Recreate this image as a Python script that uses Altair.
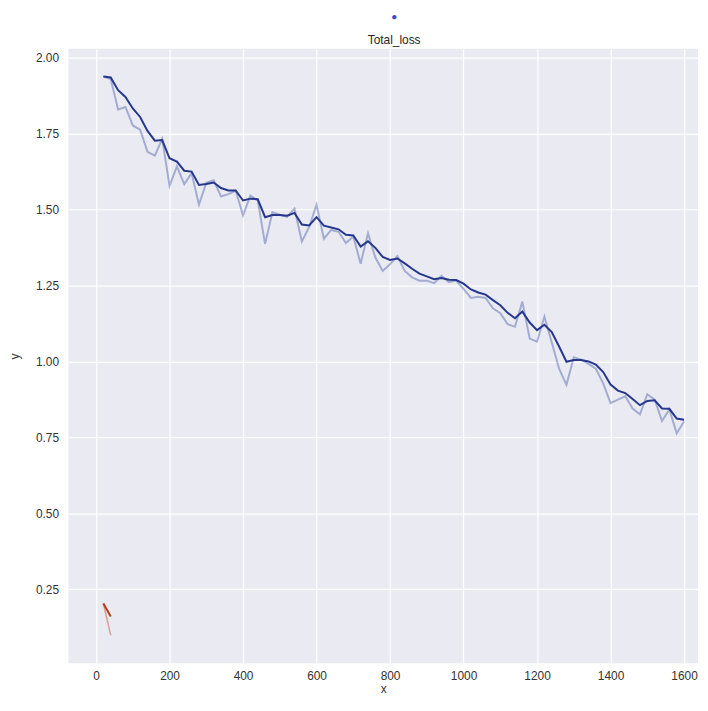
import altair as alt
import pandas as pd

# ---- data ----
steps = list(range(20, 1601, 20))
raw_loss = [
    1.938, 1.930, 1.830, 1.838, 1.777, 1.763, 1.690, 1.678, 1.733, 1.578,
    1.642, 1.584, 1.620, 1.516, 1.588, 1.597, 1.543, 1.551, 1.562, 1.481,
    1.546, 1.530, 1.387, 1.492, 1.483, 1.476, 1.503, 1.395, 1.443, 1.516,
    1.404, 1.433, 1.427, 1.390, 1.411, 1.322, 1.422, 1.342, 1.298, 1.320,
    1.347, 1.298, 1.277, 1.266, 1.266, 1.258, 1.282, 1.261, 1.266, 1.239,
    1.209, 1.213, 1.209, 1.175, 1.159, 1.123, 1.114, 1.197, 1.075, 1.065,
    1.148, 1.062, 0.976, 0.923, 1.014, 1.006, 0.992, 0.976, 0.928, 0.863,
    0.874, 0.885, 0.845, 0.826, 0.892, 0.874, 0.804, 0.842, 0.763, 0.802,
]
smooth_loss = [
    1.938, 1.935, 1.893, 1.871, 1.833, 1.805, 1.759, 1.727, 1.729, 1.669,
    1.658, 1.628, 1.625, 1.581, 1.584, 1.589, 1.571, 1.563, 1.563, 1.530,
    1.536, 1.534, 1.475, 1.482, 1.482, 1.480, 1.489, 1.451, 1.448, 1.475,
    1.447, 1.441, 1.435, 1.417, 1.415, 1.378, 1.396, 1.374, 1.344, 1.334,
    1.339, 1.323, 1.305, 1.289, 1.280, 1.271, 1.275, 1.269, 1.268, 1.256,
    1.237, 1.227, 1.220, 1.202, 1.185, 1.160, 1.142, 1.164, 1.128, 1.103,
    1.121, 1.097, 1.049, 0.999, 1.005, 1.005, 1.000, 0.990, 0.965, 0.924,
    0.904, 0.896, 0.876, 0.856, 0.870, 0.872, 0.845, 0.844, 0.812, 0.808,
]
red_steps = [20, 40]
red_raw = [0.203, 0.098]
red_smooth = [0.203, 0.160]

x_ticks = [0, 200, 400, 600, 800, 1000, 1200, 1400, 1600]
y_ticks = [0.25, 0.50, 0.75, 1.00, 1.25, 1.50, 1.75, 2.00]

blue = pd.DataFrame({"x": steps, "raw": raw_loss, "smooth": smooth_loss})
red = pd.DataFrame({"x": red_steps, "raw": red_raw, "smooth": red_smooth})

FONT = "Liberation Sans"
xs = alt.Scale(domain=[-75, 1638], nice=False, zero=False)
ys = alt.Scale(domain=[0.006, 2.03], nice=False, zero=False)

xax = alt.Axis(values=x_ticks, title="x", format="d", labelPadding=7, titlePadding=2)
yax = alt.Axis(values=y_ticks, title="y", format=".2f", labelPadding=10, titlePadding=14)

raw_b = alt.Chart(blue).mark_line(color="#4c62a8", opacity=0.45, strokeWidth=2).encode(
    x=alt.X("x:Q", scale=xs, axis=xax),
    y=alt.Y("raw:Q", scale=ys, axis=yax),
)
smooth_b = alt.Chart(blue).mark_line(color="#26378c", strokeWidth=2).encode(
    x=alt.X("x:Q", scale=xs),
    y=alt.Y("smooth:Q", scale=ys),
)
raw_r = alt.Chart(red).mark_line(color="#d0806c", opacity=0.7, strokeWidth=1.5).encode(
    x=alt.X("x:Q", scale=xs),
    y=alt.Y("raw:Q", scale=ys),
)
smooth_r = alt.Chart(red).mark_line(color="#b03c1e", strokeWidth=2).encode(
    x=alt.X("x:Q", scale=xs),
    y=alt.Y("smooth:Q", scale=ys),
)

chart = (
    alt.layer(raw_b, smooth_b, raw_r, smooth_r)
    .properties(
        width=635,
        height=620,
        title=alt.TitleParams(
            "●", subtitle="Total_loss", fontSize=10, color="#3a4cc8",
            subtitleFont=FONT, subtitleFontSize=12, subtitleColor="#262626",
            subtitlePadding=13, offset=3, frame="group", anchor="middle", dx=11,
        ),
        autosize=alt.AutoSizeParams(type="none"),
        padding={"left": 61, "top": 38, "right": 2, "bottom": 30},
    )
    .configure_view(fill="#EAEAF2", stroke=None)
    .configure_axis(
        domain=False, ticks=False, grid=True, gridColor="#ffffff", gridWidth=1.2,
        labelFont=FONT, labelFontSize=12, labelColor="#333333",
        titleFont=FONT, titleFontSize=12, titleFontWeight="normal", titleColor="#333333",
    )
)

chart.save("out.html", embed_options={"renderer": "svg", "actions": False})
